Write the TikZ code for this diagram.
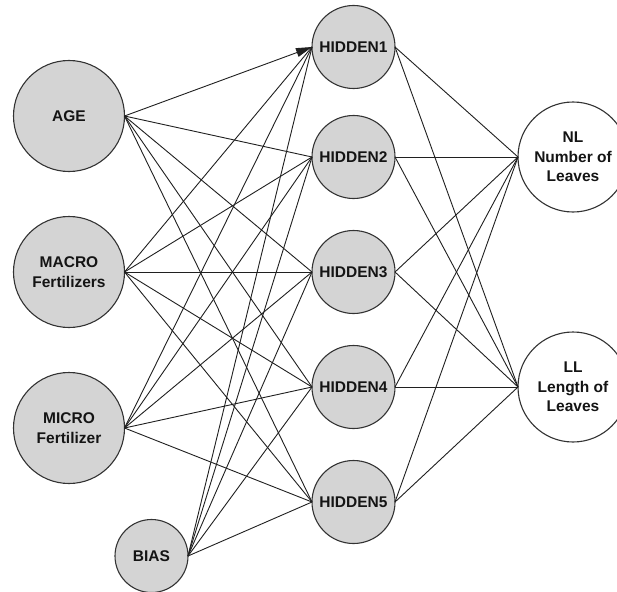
\documentclass[tikz,border=0pt]{standalone}
\usepackage{fontspec}
\setmainfont{Liberation Sans}
\usetikzlibrary{arrows.meta}
\definecolor{nodefill}{HTML}{D4D4D4}
\definecolor{edgecol}{HTML}{202020}
\definecolor{rimcol}{HTML}{333333}
\begin{document}
\begin{tikzpicture}[x=1pt,y=-1pt,
  neuron/.style={circle,draw=rimcol,line width=1.1pt,fill=nodefill,inner sep=0pt,outer sep=0pt,
    align=center,font=\fontsize{15.5}{19.5}\selectfont\bfseries,text=black!92},
  inbig/.style={neuron,minimum size=111pt},
  hid/.style={neuron,minimum size=83pt},
  outn/.style={neuron,fill=white,minimum size=110pt},
  biasn/.style={neuron,minimum size=73pt},
  link/.style={draw=edgecol,line width=0.9pt}]
\clip (0,0) rectangle (617,591);
\fill[white] (0,0) rectangle (617,591);
% nodes
\node[inbig] (age) at (69,116) {AGE};
\node[inbig] (macro) at (69,272) {MACRO\\Fertilizers};
\node[inbig] (micro) at (69,428) {MICRO\\Fertilizer};
\node[biasn] (bias) at (151.5,556) {BIAS};
\node[hid] (h1) at (353.5,47) {HIDDEN1};
\node[hid] (h2) at (353.5,157) {HIDDEN2};
\node[hid] (h3) at (353.5,272) {HIDDEN3};
\node[hid] (h4) at (353.5,387) {HIDDEN4};
\node[hid] (h5) at (353.5,502) {HIDDEN5};
\node[outn] (nl) at (573,157) {NL\\Number of\\Leaves};
\node[outn] (ll) at (573,387) {LL\\Length of\\Leaves};
% connectors input -> hidden
\draw[link,-{Triangle[length=16pt,width=9pt]}] (age.east) -- (h1.west);
\foreach \h in {h2,h3,h4,h5} \draw[link] (age.east) -- (\h.west);
\foreach \i in {macro,micro,bias}
  \foreach \h in {h1,h2,h3,h4,h5}
    \draw[link] (\i.east) -- (\h.west);
% hidden -> output
\foreach \h in {h1,h2,h3,h4,h5}
  \foreach \o in {nl,ll}
    \draw[link] (\h.east) -- (\o.west);
\end{tikzpicture}
\end{document}
